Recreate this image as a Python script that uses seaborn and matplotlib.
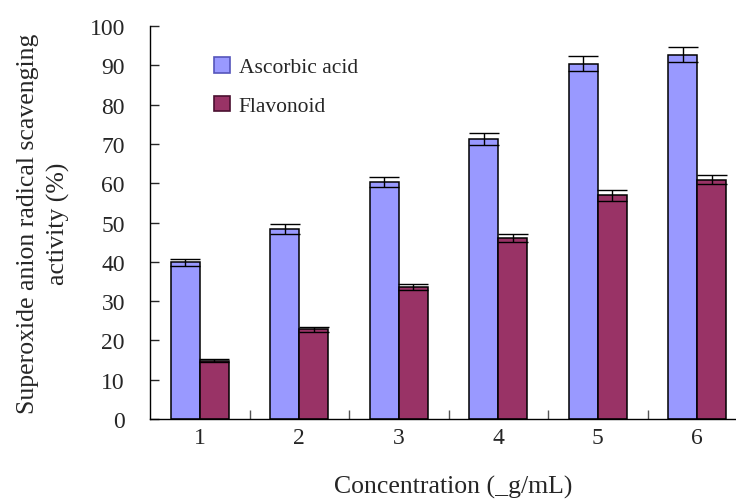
import matplotlib
matplotlib.use("Agg")
import matplotlib.pyplot as plt
import seaborn as sns
import pandas as pd
from matplotlib.ticker import FixedLocator

concentrations = ["1", "2", "3", "4", "5", "6"]
ascorbic = [39.9, 48.3, 60.3, 71.2, 90.4, 92.7]
ascorbic_err = [0.9, 1.2, 1.2, 1.5, 1.9, 1.9]
flavonoid = [14.8, 22.8, 33.6, 46.1, 56.9, 60.9]
flavonoid_err = [0.4, 0.6, 0.7, 1.0, 1.4, 1.1]
series = ["Ascorbic acid", "Flavonoid"]
colors = ["#9999FF", "#993366"]
legend_edges = ["#5555BB", "#4A1030"]

df = pd.DataFrame({
    "Concentration": concentrations * 2,
    "Activity": ascorbic + flavonoid,
    "Series": [series[0]] * 6 + [series[1]] * 6,
})

sns.set_style("white")
plt.rcParams["font.family"] = ["Liberation Serif", "DejaVu Serif"]

fig = plt.figure(figsize=(7.36, 5.02), dpi=100)
ax = fig.add_axes([150 / 736, 1 - 420 / 502, 1 - 150 / 736, (420 - 27) / 502])

sns.barplot(data=df, x="Concentration", y="Activity", hue="Series",
            palette=colors, saturation=1, width=0.58, edgecolor="black", linewidth=1.1,
            errorbar=None, ax=ax, legend=True)

# error bars at bar centres (positions taken from the drawn bars)
errs = ascorbic_err + flavonoid_err
bars = [p for p in ax.patches if p.get_height() > 0][:12]
xs = [b.get_x() + b.get_width() / 2 for b in bars]
hs = [b.get_height() for b in bars]
ax.errorbar(xs, hs, yerr=errs, fmt="none", ecolor="black",
            elinewidth=1.0, capsize=11, capthick=1.0, zorder=5)

ax.set_ylim(0, 100)
ax.set_xlim(-0.5, -0.5 + (736 - 150) / 99.5)
ax.set_yticks(range(0, 101, 10))
ax.tick_params(axis="y", direction="in", length=6.5, width=1, labelsize=17, pad=18, left=True)
ax.tick_params(axis="x", which="major", length=0, labelsize=17, pad=6)
ax.xaxis.set_minor_locator(FixedLocator([0.5, 1.5, 2.5, 3.5, 4.5, 5.5]))
ax.tick_params(axis="x", which="minor", direction="in", length=6.5, width=1, bottom=True, color="#555555")
for s in ["top", "right"]:
    ax.spines[s].set_visible(False)
for s in ["left", "bottom"]:
    ax.spines[s].set_color("black")
    ax.spines[s].set_linewidth(1.0)

ax.set_xlabel("Concentration (_g/mL)", fontsize=18.5, labelpad=18)
ax.xaxis.set_label_coords((453 - 150) / 586, -0.143)
ax.set_ylabel("Superoxide anion radical scavenging\nactivity (%)", fontsize=18.5, labelpad=14,
              multialignment="center", linespacing=1.45)

leg = ax.legend(loc="upper left", bbox_to_anchor=(0.076, 0.97), frameon=False, fontsize=15.5,
                handlelength=0.74, handleheight=0.74, handletextpad=0.42, labelspacing=0.85)
for h, ec in zip(leg.legend_handles, legend_edges):
    h.set_edgecolor(ec)
    h.set_linewidth(1.2)

fig.savefig("out.png", dpi=100)
